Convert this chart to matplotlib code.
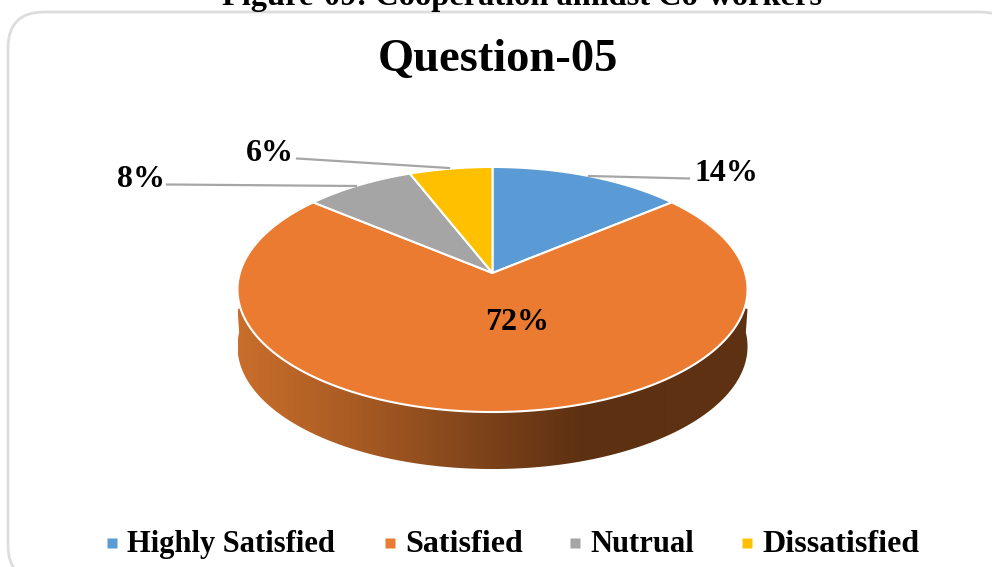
import numpy as np
import matplotlib
matplotlib.use("Agg")
import matplotlib.pyplot as plt
from matplotlib.patches import FancyBboxPatch, Polygon
from matplotlib.colors import LinearSegmentedColormap

categories = ["Highly Satisfied", "Satisfied", "Nutrual", "Dissatisfied"]
values = [14, 72, 8, 6]
colors = ["#5B9BD5", "#EA7B31", "#A5A5A5", "#FFC000"]
title = "Question-05"
caption = "Figure-09: Cooperation amidst Co-workers"

plt.rcParams['font.family'] = ['Liberation Serif', 'DejaVu Serif']

# pie geometry in pixels
CX, CY = 492.5, 273
A, B, K = 252.7, 120.3, 0.1347
DEPTH = 57


def project(theta, dy=0.0):
    # unit circle -> tilted disc with a bit of perspective
    u = np.sin(theta)
    v = np.cos(theta)
    d = 1 + K * v
    return CX + A * u / d, CY - B * v / d + dy


fig = plt.figure(figsize=(9.92, 5.67), dpi=100)
ax = fig.add_axes([0, 0, 1, 1])

# outer frame, runs off the right and bottom edges
ax.add_patch(FancyBboxPatch((44, 48), 936, 497, boxstyle="round,pad=36,rounding_size=36",
                            fc="white", ec="#DDDDDD", lw=2.0))

ax.text(522, 5, caption, fontsize=23.3, fontweight="bold", ha="center", va="baseline")
ax.text(498, 71, title, fontsize=33.5, fontweight="bold", ha="center", va="baseline")

# side wall
t = np.linspace(np.pi / 2 + 0.02, 3 * np.pi / 2 - 0.02, 300)
bx, by = project(t, DEPTH)
side = np.vstack([[[747.5, 309]], np.column_stack([bx, by]), [[237.5, 309]], [[300, 295]], [[690, 295]]])
poly = Polygon(side, closed=True, fc="none", ec="none")
ax.add_patch(poly)
side_cmap = LinearSegmentedColormap.from_list(
    "side", [(0, "#C96E2C"), (0.23, "#A85B23"), (0.49, "#7C421A"), (0.68, "#5C3011"), (1, "#5E3212")])
im = ax.imshow(np.linspace(0, 1, 256)[None, :], extent=(237.5, 747.5, 480, 250), cmap=side_cmap,
               aspect="auto", zorder=1)
im.set_clip_path(poly)

# top slices
edges = np.cumsum([0] + values) / np.sum(values) * 2 * np.pi
for i in range(len(values)):
    th = np.linspace(edges[i], edges[i + 1], 200)
    x, y = project(th)
    ax.fill(np.r_[CX, x], np.r_[CY, y], fc=colors[i], ec="white", lw=1.5, zorder=2, joinstyle="round")

# data labels and leader lines
labels = ["%d%%" % v for v in values]
label_pos = [(726, 181), (517, 330), (140.5, 187), (270, 161)]
for s, (lx, ly) in zip(labels, label_pos):
    ax.text(lx, ly, s, fontsize=23, fontweight="bold", ha="center", va="baseline", zorder=4)
leaders = [((589, 176), (689, 178.5)), ((167, 184.5), (356, 186)), ((297, 158.5), (449, 168))]
for p, q in leaders:
    ax.plot([p[0], q[0]], [p[1], q[1]], color="#A6A6A6", lw=1.6, zorder=3)

# legend
key_x = [112, 390, 575, 747]
text_x = [127, 405, 590, 762]
text_size = [22, 23, 22, 23]
for name, c, kx, tx, fs in zip(categories, colors, key_x, text_x, text_size):
    ax.plot([kx], [543], marker="s", ms=7.6, color=c, mec="none", ls="none")
    ax.text(tx, 552, name, fontsize=fs, fontweight="bold", ha="left", va="baseline")

ax.set_xlim(0, 992)
ax.set_ylim(567, 0)
ax.axis("off")
fig.savefig("out.png", dpi=100)
